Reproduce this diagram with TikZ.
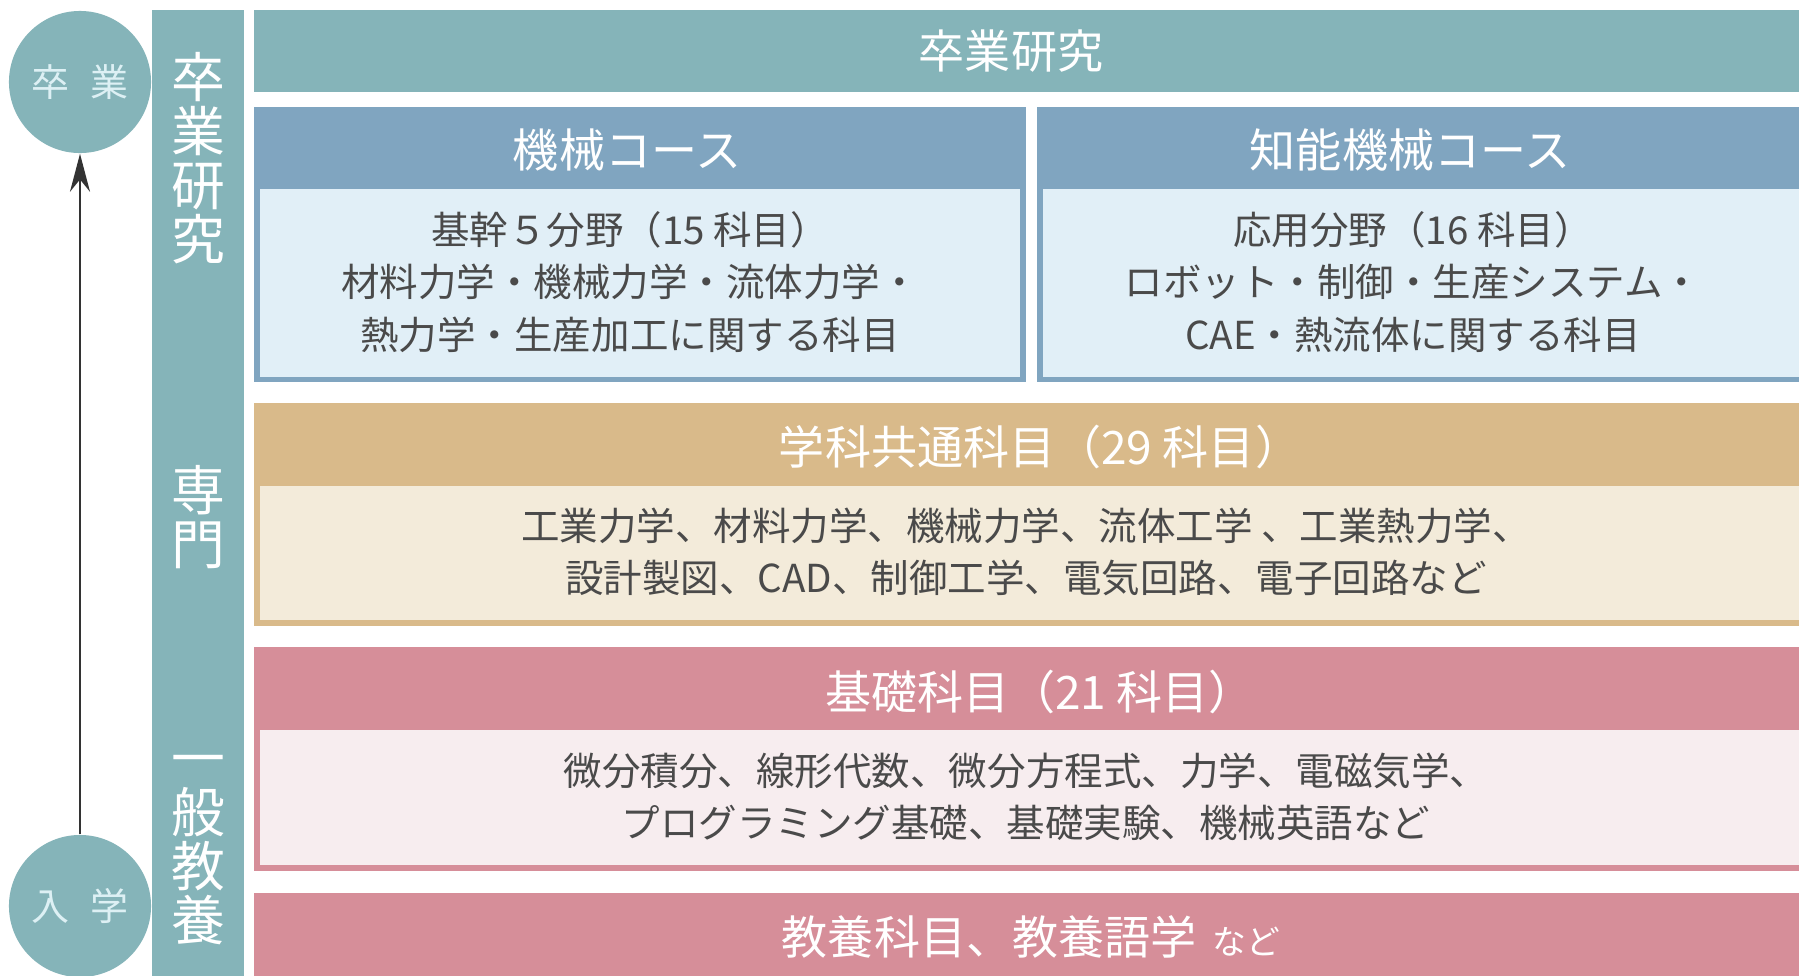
\documentclass[tikz,border=0pt]{standalone}
\usepackage{fontspec}
\usepackage{xcolor}
\usepackage{tikz}
\usetikzlibrary{arrows.meta}

\newfontfamily\jp{Noto Sans CJK JP}

\definecolor{tealbar}{HTML}{85B4B9}
\definecolor{coursehead}{HTML}{80A5C0}
\definecolor{coursebody}{HTML}{E1EFF7}
\definecolor{commonhead}{HTML}{D9BA8A}
\definecolor{commonbody}{HTML}{F3EBDA}
\definecolor{basehead}{HTML}{D68E99}
\definecolor{basebody}{HTML}{F7EDEF}
\definecolor{textgray}{HTML}{4A4A4A}
\definecolor{circletext}{HTML}{DDF0F4}
\definecolor{arrowgray}{HTML}{333333}

\begin{document}
\begin{tikzpicture}[
  x=0.01cm, y=-0.01cm,
  milestone/.style={circle, fill=tealbar, minimum size=1.42cm, inner sep=0pt, text=circletext, font=\jp\fontsize{10.8pt}{12pt}\selectfont},
  stage/.style={align=center, inner sep=0pt, text=white, font=\jp\fontsize{15.3pt}{15.3pt}\selectfont},
  headtxt/.style={inner sep=0pt, text=white, font=\jp\fontsize{13.1pt}{15pt}\selectfont},
  bodytxt/.style={align=center, inner sep=0pt, text=textgray, font=\jp\fontsize{10.95pt}{14.94pt}\selectfont}
]
\useasboundingbox (0,0) rectangle (1799,975);
\fill[white] (0,0) rectangle (1799,975);
\clip (0,0) rectangle (1799,975);

% Left column
\fill[tealbar] (152,10) rectangle (244,990);
\node[stage] (gradres) at (198,158) {卒\\業\\研\\究};
\node[stage] (senmon) at (198,517) {専\\門};
\node[stage] (ippan) at (198,850) {一\\般\\教\\養};

\node[milestone] (grad) at (80,82) {卒\hspace{0.55em}業};
\node[milestone] (enter) at (80,906) {入\hspace{0.55em}学};
\draw[line width=0.7pt, draw=arrowgray, -{Stealth[length=3.8mm, width=2mm]}] (enter) -- (grad);

% Graduation research
\fill[tealbar] (254,10) rectangle (1810,92);
\node[headtxt] (gradband) at (1011,51) {卒業研究};

% Courses
\fill[coursehead] (254,107) rectangle (1026,382);
\fill[coursebody] (260,189) rectangle (1020,377);
\fill[coursehead] (1037,107) rectangle (1810,382);
\fill[coursebody] (1043,189) rectangle (1810,377);

\node[headtxt] (mech) at (627,150) {機械コース};
\node[bodytxt] (mechsub) at (630,282) {基幹５分野（15 科目）\\材料力学・機械力学・流体力学・\\熱力学・生産加工に関する科目};
\node[headtxt] (intel) at (1410,150) {知能機械コース};
\node[bodytxt] (intelsub) at (1413,282) {応用分野（16 科目）\\ロボット・制御・生産システム・\\CAE・熱流体に関する科目};

% Common subjects
\fill[commonhead] (254,403) rectangle (1810,626);
\fill[commonbody] (260,486) rectangle (1810,620);
\node[headtxt] (common) at (1040,447) {学科共通科目（29 科目）};
\node[bodytxt] (commonsub) at (1026,552) {工業力学、材料力学、機械力学、流体工学 、工業熱力学、\\設計製図、CAD、制御工学、電気回路、電子回路など};

% Basic subjects
\fill[basehead] (254,647) rectangle (1810,871);
\fill[basebody] (260,730) rectangle (1810,865);
\node[headtxt] (basic) at (1040,692) {基礎科目（21 科目）};
\node[bodytxt] (basicsub) at (1026,797) {微分積分、線形代数、微分方程式、力学、電磁気学、\\プログラミング基礎、基礎実験、機械英語など};

% Liberal arts
\fill[basehead] (254,893) rectangle (1810,990);
\node[headtxt] (liberal) at (1031,937) {教養科目、教養語学\hspace{0.35em}{\fontsize{9.6pt}{11pt}\selectfont など}};

\end{tikzpicture}
\end{document}
